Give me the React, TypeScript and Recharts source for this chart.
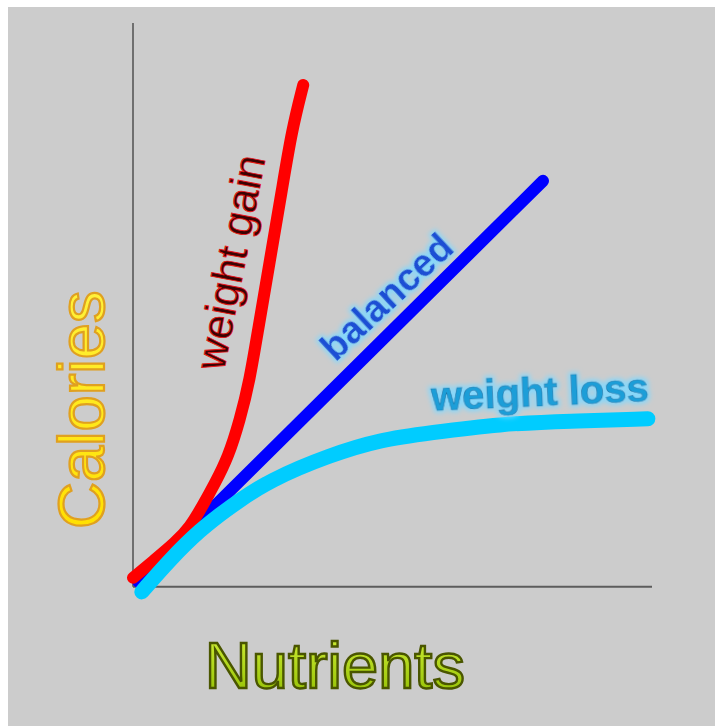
import { LineChart, Line, XAxis, YAxis, ReferenceLine, ReferenceDot } from "recharts"

// curves, in axis units (0..100 both ways)
const gainX = [0, 4.2, 8.1, 11.0, 13.5, 15.8, 18.3, 20.6, 22.5, 24.1, 26.4, 28.7, 30.6, 32.8]
const gainY = [1.6, 4.8, 7.8, 10.6, 14.5, 18.4, 22.9, 29.6, 36.7, 45.6, 58.0, 70.4, 81.0, 89.0]

const balancedX = [1.0, 79.0]
const balancedY = [0.9, 72.0]

const lossX = [1.7, 7.1, 12.9, 18.7, 26.4, 38.0, 47.6, 57.2, 70.7, 84.2, 99.2]
const lossY = [-0.9, 4.8, 10.1, 14.2, 19.0, 23.4, 26.1, 27.3, 28.9, 29.4, 29.8]

const labels = ["weight gain", "balanced", "weight loss"]
const xTitle = "Nutrients"
const yTitle = "Calories"

const toRows = (xs: number[], ys: number[]) => xs.map((x, i) => ({ x, y: ys[i] }))

const gainData = toRows(gainX, gainY)
const balancedData = toRows(balancedX, balancedY)
const lossData = toRows(lossX, lossY)

const FONT = "'Liberation Sans', Arial, sans-serif"

function TextShape(props: any) {
    const { cx, cy, text, angle, style } = props
    return (
        <text
            x={cx}
            y={cy}
            transform={`rotate(${angle} ${cx} ${cy})`}
            textAnchor="middle"
            fontFamily={FONT}
            {...style}
        >
            {text}
        </text>
    )
}

export default function App() {
    return (
        <div style={{ position: "fixed", left: 8, top: 7, width: 707, height: 719, background: "#cccccc" }}>
            <LineChart width={707} height={719} margin={{ top: 16, right: 63, bottom: 111, left: 125 }}>
                <defs>
                    <linearGradient id="calGrad" x1="0" y1="0" x2="1" y2="0">
                        <stop offset="0%" stopColor="#ffe000" />
                        <stop offset="100%" stopColor="#fff23a" />
                    </linearGradient>
                    <linearGradient id="nutGrad" x1="0" y1="0" x2="0" y2="1">
                        <stop offset="0%" stopColor="#d4f23a" />
                        <stop offset="100%" stopColor="#8fbc00" />
                    </linearGradient>
                    <filter id="glow" x="-20%" y="-40%" width="140%" height="180%">
                        <feMorphology in="SourceAlpha" operator="dilate" radius="2" result="d" />
                        <feGaussianBlur in="d" stdDeviation="2.5" result="b" />
                        <feFlood floodColor="#7fd8ff" floodOpacity="0.9" />
                        <feComposite in2="b" operator="in" result="g" />
                        <feMerge>
                            <feMergeNode in="g" />
                            <feMergeNode in="SourceGraphic" />
                        </feMerge>
                    </filter>
                </defs>
                <XAxis dataKey="x" type="number" domain={[0, 100]} hide />
                <YAxis dataKey="y" type="number" domain={[-5, 100]} hide />
                <ReferenceLine segment={[{ x: 0, y: 0 }, { x: 0, y: 100 }]} stroke="#505050" strokeWidth={1.5} />
                <ReferenceLine segment={[{ x: 0, y: 0 }, { x: 100, y: 0 }]} stroke="#5c5c5c" strokeWidth={2} />
                <Line data={balancedData} dataKey="y" type="linear" stroke="#0000ff" strokeWidth={12}
                    strokeLinecap="round" dot={false} activeDot={false} isAnimationActive={false} />
                <Line data={gainData} dataKey="y" type="basis" stroke="#ff0000" strokeWidth={12}
                    strokeLinecap="round" dot={false} activeDot={false} isAnimationActive={false} />
                <Line data={lossData} dataKey="y" type="basis" stroke="#00ccff" strokeWidth={15}
                    strokeLinecap="round" dot={false} activeDot={false} isAnimationActive={false} />

                <ReferenceDot x={18.7} y={57.6} r={0} ifOverflow="visible"
                    shape={(p: any) => <TextShape {...p} text={labels[0]} angle={-79}
                        style={{ fontSize: 43, fill: "#3a0303", stroke: "#e81818", strokeWidth: 0.9, dominantBaseline: "central" }} />} />
                <ReferenceDot x={48.9} y={51.4} r={0} ifOverflow="visible"
                    shape={(p: any) => <TextShape {...p} text={labels[1]} angle={-43}
                        style={{ fontSize: 38, fontWeight: "bold", fill: "#1f50d4", filter: "url(#glow)", dominantBaseline: "central" }} />} />
                <ReferenceDot x={78.4} y={34.6} r={0} ifOverflow="visible"
                    shape={(p: any) => <TextShape {...p} text={labels[2]} angle={-2.5}
                        style={{ fontSize: 40, fontWeight: "bold", fill: "#1c9ed8", stroke: "#1577a8", strokeWidth: 0.6, filter: "url(#glow)", dominantBaseline: "central" }} />} />

                <ReferenceDot x={-5.6} y={31.4} r={0} ifOverflow="visible"
                    shape={(p: any) => <TextShape {...p} text={yTitle} angle={-90}
                        style={{ fontSize: 65, fill: "url(#calGrad)", stroke: "#e0a020", strokeWidth: 2.2 }} />} />
                <ReferenceDot x={38.9} y={-17.9} r={0} ifOverflow="visible"
                    shape={(p: any) => <TextShape {...p} text={xTitle} angle={0}
                        style={{ fontSize: 65, fill: "url(#nutGrad)", stroke: "#4a5600", strokeWidth: 2.4 }} />} />
            </LineChart>
        </div>
    )
}
